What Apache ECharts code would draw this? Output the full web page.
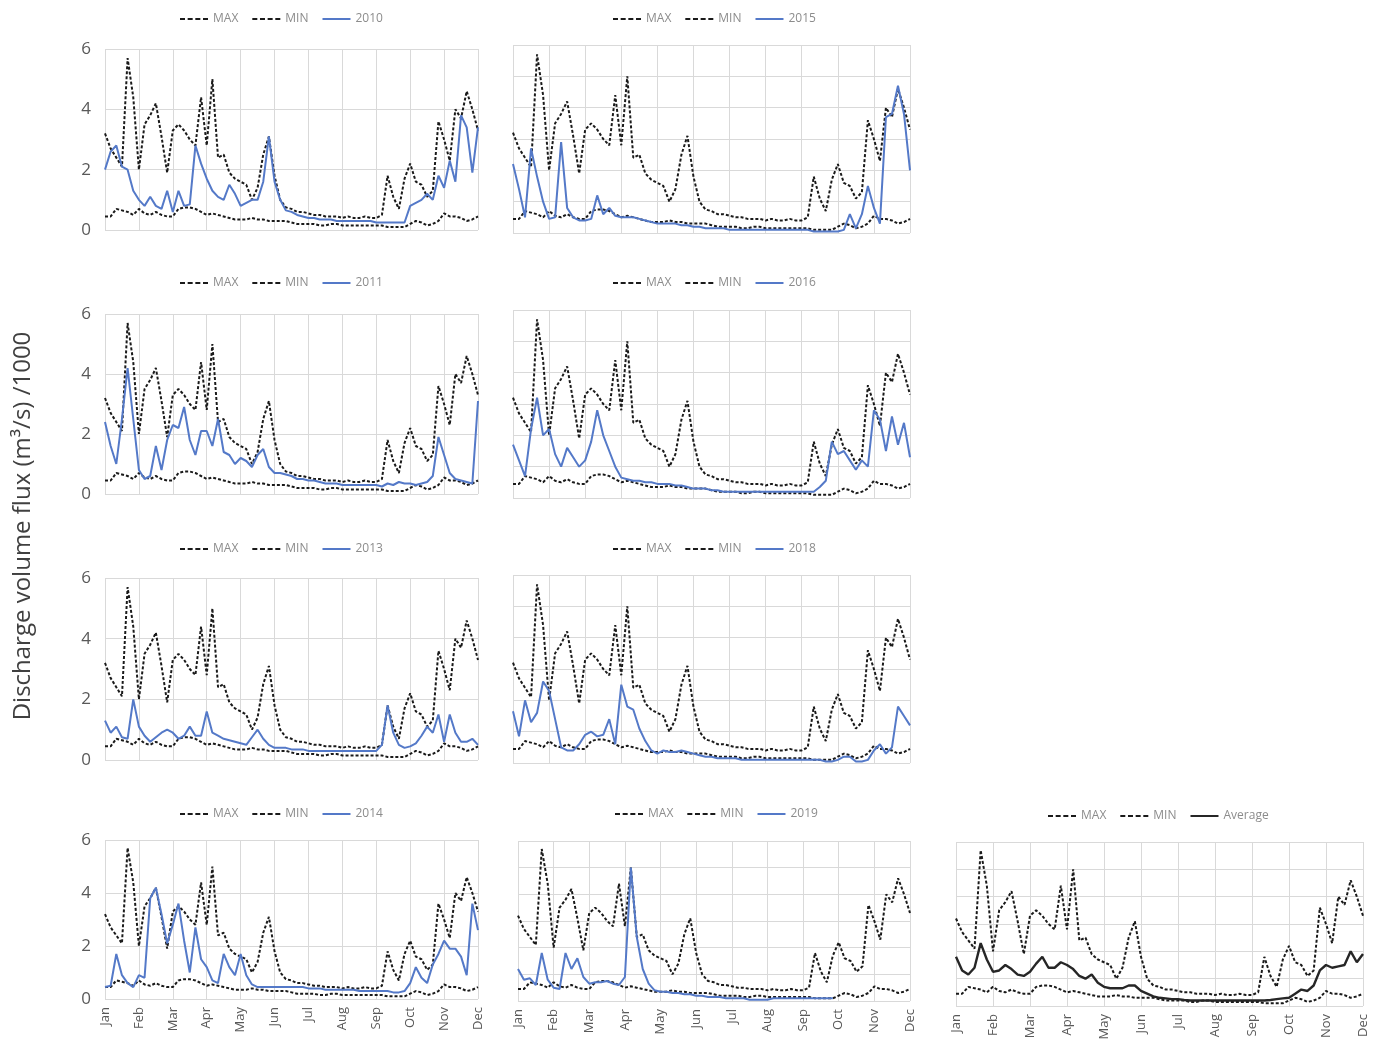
<!DOCTYPE html>
<html>
<head>
<meta charset="utf-8">
<title>Discharge volume flux</title>
<script src="https://cdn.jsdelivr.net/npm/echarts@6/dist/echarts.min.js"></script>
<style>
  html, body { margin: 0; padding: 0; background: #fff; }
  #chart { width: 1381px; height: 1051px; }
</style>
</head>
<body>
<div id="chart"></div>
<script>
// month ticks, the series are sampled 6 times per month (about every 5 days)
const MONTHS = ['Jan', 'Feb', 'Mar', 'Apr', 'May', 'Jun', 'Jul', 'Aug', 'Sep', 'Oct', 'Nov', 'Dec'];
const STEPS_PER_MONTH = 6;

// envelope of all years (m3/s /1000)
const MAX_FLOW = [
  3.2, 2.7, 2.4, 2.1, 5.7, 4.4,
  2.0, 3.5, 3.8, 4.2, 3.1, 1.9,
  3.3, 3.5, 3.3, 3.0, 2.8, 4.4,
  2.8, 5.0, 2.4, 2.5, 1.9, 1.7,
  1.6, 1.5, 1.0, 1.4, 2.5, 3.1,
  1.8, 1.0, 0.75, 0.7, 0.6, 0.6,
  0.55, 0.5, 0.5, 0.45, 0.45, 0.45,
  0.4, 0.45, 0.4, 0.4, 0.45, 0.4,
  0.4, 0.5, 1.8, 1.1, 0.7, 1.7,
  2.2, 1.6, 1.5, 1.1, 1.3, 3.6,
  3.0, 2.3, 4.0, 3.7, 4.6, 4.0,
  3.3
];
const MIN_FLOW = [
  0.45, 0.45, 0.7, 0.65, 0.6, 0.5,
  0.7, 0.55, 0.5, 0.6, 0.5, 0.45,
  0.45, 0.7, 0.75, 0.75, 0.7, 0.6,
  0.5, 0.55, 0.5, 0.45, 0.4, 0.35,
  0.35, 0.35, 0.4, 0.35, 0.35, 0.3,
  0.3, 0.3, 0.3, 0.25, 0.2, 0.2,
  0.2, 0.2, 0.15, 0.15, 0.2, 0.2,
  0.15, 0.15, 0.15, 0.15, 0.15, 0.15,
  0.15, 0.15, 0.1, 0.1, 0.1, 0.1,
  0.2, 0.3, 0.25, 0.15, 0.2, 0.3,
  0.55, 0.45, 0.45, 0.4, 0.3, 0.35,
  0.45
];

// single years
const Y2010 = [
  2.0, 2.6, 2.8, 2.1, 2.0, 1.3,
  1.0, 0.8, 1.1, 0.8, 0.7, 1.3,
  0.6, 1.3, 0.8, 0.85, 2.8, 2.2,
  1.7, 1.3, 1.1, 1.0, 1.5, 1.2,
  0.8, 0.9, 1.0, 1.0, 1.6, 3.1,
  1.6, 1.0, 0.65, 0.6, 0.5, 0.45,
  0.4, 0.4, 0.35, 0.35, 0.35, 0.3,
  0.3, 0.3, 0.3, 0.3, 0.3, 0.3,
  0.25, 0.25, 0.25, 0.25, 0.25, 0.25,
  0.8, 0.9, 1.0, 1.2, 1.0, 1.8,
  1.4, 2.3, 1.6, 3.8, 3.4, 1.9,
  3.4
];
const Y2011 = [
  2.4, 1.6, 1.0, 2.5, 4.2, 2.5,
  0.8, 0.5, 0.6, 1.6, 0.8, 1.8,
  2.3, 2.2, 2.9, 1.8, 1.3, 2.1,
  2.1, 1.6, 2.5, 1.4, 1.3, 1.0,
  1.2, 1.1, 0.9, 1.3, 1.5, 0.9,
  0.7, 0.7, 0.65, 0.6, 0.5, 0.5,
  0.45, 0.45, 0.4, 0.35, 0.35, 0.35,
  0.3, 0.3, 0.3, 0.3, 0.3, 0.3,
  0.3, 0.25, 0.35, 0.3, 0.4, 0.35,
  0.35, 0.3, 0.35, 0.4, 0.6, 1.9,
  1.3, 0.7, 0.5, 0.45, 0.4, 0.35,
  3.1
];
const Y2013 = [
  1.3, 0.9, 1.1, 0.75, 0.7, 2.0,
  1.1, 0.8, 0.6, 0.75, 0.9, 1.0,
  0.9, 0.7, 0.8, 1.1, 0.8, 0.8,
  1.6, 0.9, 0.8, 0.7, 0.65, 0.6,
  0.55, 0.5, 0.75, 1.0, 0.7, 0.5,
  0.4, 0.4, 0.4, 0.35, 0.35, 0.35,
  0.3, 0.3, 0.3, 0.3, 0.3, 0.3,
  0.3, 0.3, 0.3, 0.3, 0.3, 0.3,
  0.3, 0.5, 1.8, 0.9, 0.5, 0.4,
  0.45, 0.55, 0.8, 1.1, 0.9, 1.5,
  0.6, 1.5, 0.9, 0.6, 0.6, 0.7,
  0.5
];
const Y2014 = [
  0.45, 0.5, 1.7, 0.9, 0.6, 0.45,
  0.9, 0.8, 3.8, 4.2, 3.2, 2.1,
  2.8, 3.6, 2.2, 1.0, 2.7, 1.5,
  1.2, 0.7, 0.6, 1.7, 1.2, 0.9,
  1.7, 0.9, 0.55, 0.45, 0.45, 0.45,
  0.45, 0.45, 0.45, 0.45, 0.45, 0.45,
  0.4, 0.4, 0.4, 0.35, 0.35, 0.35,
  0.35, 0.35, 0.35, 0.3, 0.3, 0.3,
  0.3, 0.3, 0.3, 0.25, 0.25, 0.3,
  0.6, 1.2, 0.8, 0.6, 1.3, 1.7,
  2.2, 1.9, 1.9, 1.6, 0.9, 3.6,
  2.6
];
const Y2015 = [
  2.2, 1.4, 0.5, 2.7, 1.8, 1.0,
  0.45, 0.5, 2.9, 0.8, 0.5, 0.4,
  0.4, 0.45, 1.2, 0.6, 0.8, 0.55,
  0.5, 0.5, 0.5, 0.45, 0.4, 0.35,
  0.3, 0.3, 0.3, 0.3, 0.25, 0.25,
  0.2, 0.2, 0.15, 0.15, 0.15, 0.15,
  0.1, 0.1, 0.1, 0.1, 0.1, 0.1,
  0.1, 0.1, 0.1, 0.1, 0.1, 0.1,
  0.1, 0.1, 0.05, 0.05, 0.05, 0.05,
  0.05, 0.1, 0.6, 0.15, 0.6, 1.5,
  0.8, 0.3, 3.7, 3.8, 4.7, 3.8,
  2.0
];
const Y2016 = [
  1.7, 1.2, 0.7, 2.2, 3.2, 2.0,
  2.2, 1.4, 1.0, 1.6, 1.3, 1.0,
  1.2, 1.8, 2.8, 2.0, 1.5, 1.0,
  0.65, 0.6, 0.55, 0.55, 0.5, 0.5,
  0.45, 0.45, 0.45, 0.4, 0.4, 0.35,
  0.3, 0.3, 0.3, 0.25, 0.25, 0.2,
  0.2, 0.2, 0.2, 0.2, 0.2, 0.2,
  0.2, 0.2, 0.2, 0.2, 0.2, 0.2,
  0.2, 0.2, 0.2, 0.35, 0.55, 1.8,
  1.4, 1.5, 1.2, 0.9, 1.2, 1.0,
  2.8, 2.5, 1.5, 2.6, 1.7, 2.4,
  1.3
];
const Y2018 = [
  1.65, 0.85, 2.0, 1.3, 1.6, 2.6,
  2.3, 1.4, 0.5, 0.4, 0.4, 0.6,
  0.9, 1.0, 0.85, 0.9, 1.4, 0.6,
  2.5, 1.8, 1.7, 1.1, 0.7, 0.4,
  0.3, 0.4, 0.35, 0.35, 0.4, 0.35,
  0.3, 0.25, 0.2, 0.2, 0.15, 0.15,
  0.15, 0.15, 0.1, 0.1, 0.1, 0.1,
  0.1, 0.1, 0.1, 0.1, 0.1, 0.1,
  0.1, 0.1, 0.1, 0.1, 0.05, 0.05,
  0.1, 0.2, 0.2, 0.05, 0.05, 0.1,
  0.4, 0.6, 0.3, 0.5, 1.8, 1.5,
  1.2
];
// 2019 stops at the end of September
const Y2019 = [
  1.2, 0.8, 0.85, 0.6, 1.8, 0.8,
  0.5, 0.45, 1.8, 1.2, 1.6, 0.9,
  0.65, 0.7, 0.7, 0.75, 0.65, 0.6,
  0.9, 5.0, 2.4, 1.2, 0.65, 0.4,
  0.35, 0.35, 0.3, 0.3, 0.25, 0.25,
  0.2, 0.2, 0.15, 0.15, 0.15, 0.1,
  0.1, 0.1, 0.1, 0.05, 0.05, 0.05,
  0.05, 0.1, 0.1, 0.1, 0.1, 0.1,
  0.1, 0.1, 0.1, 0.1, 0.1, 0.1
];
const AVERAGE = [
  1.8, 1.3, 1.15, 1.4, 2.3, 1.7,
  1.25, 1.3, 1.5, 1.35, 1.15, 1.1,
  1.25, 1.55, 1.8, 1.4, 1.4, 1.6,
  1.5, 1.35, 1.1, 1.0, 1.15, 0.85,
  0.7, 0.65, 0.65, 0.65, 0.75, 0.75,
  0.55, 0.45, 0.35, 0.3, 0.28, 0.25,
  0.25, 0.22, 0.2, 0.2, 0.2, 0.2,
  0.2, 0.2, 0.2, 0.2, 0.2, 0.2,
  0.2, 0.2, 0.2, 0.22, 0.25, 0.28,
  0.3, 0.45, 0.6, 0.55, 0.75, 1.3,
  1.5, 1.4, 1.45, 1.5, 2.0, 1.6,
  1.9
];

const BLUE = '#5479c8';
const GRID_COLOR = '#d9d9d9';
const AXIS_TEXT = '#595959';
// 4 short dashes, used as legend icon for MAX / MIN
const DASH_ICON = 'path://M0,0h5v2h-5zM7.67,0h5v2h-5zM15.33,0h5v2h-5zM23,0h5v2h-5z';

// panel layout: [left, top, width, height] of each plot area, legend [left, top]
const panels = [
  { name: '2010', values: Y2010, color: BLUE, rect: [105, 49, 373, 181], legend: [175, 8], yLabels: true, xLabels: false },
  { name: '2015', values: Y2015, color: BLUE, rect: [513, 45, 397, 188], legend: [608, 8], yLabels: false, xLabels: false },
  { name: '2011', values: Y2011, color: BLUE, rect: [105, 314, 373, 180], legend: [175, 272], yLabels: true, xLabels: false },
  { name: '2016', values: Y2016, color: BLUE, rect: [513, 310, 397, 188], legend: [608, 272], yLabels: false, xLabels: false },
  { name: '2013', values: Y2013, color: BLUE, rect: [105, 578, 373, 182], legend: [175, 538], yLabels: true, xLabels: false },
  { name: '2018', values: Y2018, color: BLUE, rect: [513, 575, 397, 188], legend: [608, 538], yLabels: false, xLabels: false },
  { name: '2014', values: Y2014, color: BLUE, rect: [105, 840, 373, 159], legend: [175, 803], yLabels: true, xLabels: true },
  { name: '2019', values: Y2019, color: BLUE, rect: [518, 841, 392, 160], legend: [610, 803], yLabels: false, xLabels: true },
  { name: 'Average', values: AVERAGE, color: '#262626', rect: [956, 842, 407, 164], legend: [1043, 805], yLabels: false, xLabels: true, width: 2.4 }
];

function toPoints(values) {
  return values.map((v, i) => [i / STEPS_PER_MONTH, v]);
}

function lineSeries(name, values, k, color, dashed, width) {
  return {
    name: name,
    type: 'line',
    xAxisIndex: k,
    yAxisIndex: k,
    data: toPoints(values),
    symbol: 'none',
    showSymbol: false,
    silent: true,
    color: color,
    lineStyle: { color: color, width: width || 2, type: dashed ? [3, 2] : 'solid' }
  };
}

const grid = [], xAxis = [], yAxis = [], series = [], legend = [];

panels.forEach((p, k) => {
  grid.push({
    left: p.rect[0], top: p.rect[1], width: p.rect[2], height: p.rect[3],
    containLabel: false, outerBoundsMode: 'none'
  });
  xAxis.push({
    type: 'value', gridIndex: k, min: 0, max: 11, interval: 1,
    axisLine: { show: false }, axisTick: { show: false },
    axisLabel: {
      show: p.xLabels, rotate: 90, margin: 8,
      color: AXIS_TEXT, fontSize: 13, fontFamily: 'Open Sans',
      formatter: v => MONTHS[v]
    },
    splitLine: { show: true, lineStyle: { color: GRID_COLOR, width: 1 } }
  });
  yAxis.push({
    type: 'value', gridIndex: k, min: 0, max: 6, interval: p.yLabels ? 2 : 1,
    axisLine: { show: false }, axisTick: { show: false },
    axisLabel: { show: p.yLabels, margin: 14, color: AXIS_TEXT, fontSize: 17, fontFamily: 'Open Sans' },
    splitLine: { show: true, lineStyle: { color: GRID_COLOR, width: 1 } }
  });

  series.push(lineSeries('MAX', MAX_FLOW, k, '#1a1a1a', true));
  series.push(lineSeries('MIN', MIN_FLOW, k, '#1a1a1a', true));
  series.push(lineSeries(p.name, p.values, k, p.color, false, p.width));

  legend.push({
    left: p.legend[0], top: p.legend[1],
    itemWidth: 28, itemHeight: 2, itemGap: 14,
    selectedMode: false,
    itemStyle: { borderWidth: 0 },
    textStyle: { color: '#8c8c8c', fontSize: 12, fontFamily: 'Open Sans' },
    data: [
      { name: 'MAX', icon: DASH_ICON },
      { name: 'MIN', icon: DASH_ICON },
      { name: p.name, icon: 'rect' }
    ]
  });
});

const chart = echarts.init(document.getElementById('chart'), null, { renderer: 'canvas' });
chart.setOption({
  backgroundColor: '#fff',
  animation: false,
  grid: grid,
  xAxis: xAxis,
  yAxis: yAxis,
  legend: legend,
  series: series,
  graphic: [{
    type: 'text',
    x: 23,
    y: 526,
    rotation: Math.PI / 2,
    style: {
      text: 'Discharge volume flux (m³/s) /1000',
      font: '24px "Open Sans"',
      fill: '#404040',
      textAlign: 'center',
      textVerticalAlign: 'middle'
    }
  }]
});
</script>
</body>
</html>
